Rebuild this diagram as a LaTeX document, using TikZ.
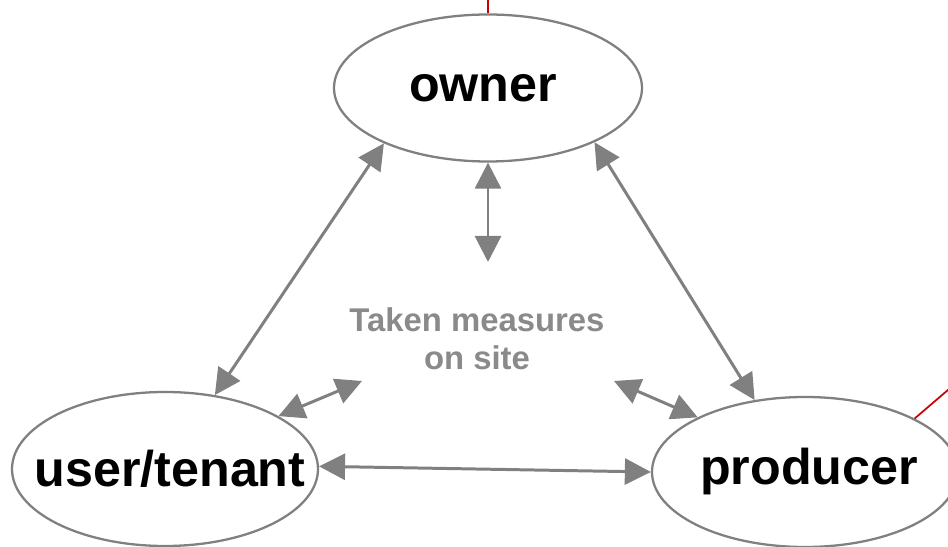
\documentclass[tikz,border=0pt]{standalone}
\usepackage{fontspec}
\setmainfont{Liberation Sans}
\usetikzlibrary{shapes.geometric,arrows.meta}
\definecolor{linegray}{HTML}{808080}
\definecolor{textgray}{HTML}{8A8A8A}
\definecolor{strayred}{HTML}{CC0000}
\begin{document}
\begin{tikzpicture}[
		party/.style 2 args={ellipse, draw=linegray, line width=1.3pt, inner sep=0pt, label={[font=\fontsize{28.6}{34}\selectfont\bfseries, xshift=#2]center:#1}},
		link/.style={linegray, line width=1.7pt, {Triangle[length=0.52cm,width=0.52cm]}-{Triangle[length=0.52cm,width=0.52cm]}}
	]
	\useasboundingbox (0,0) rectangle (18.96,10.94);
	\clip (0,0) rectangle (18.96,10.94);
	
	\node[party={owner}{-0.1cm}, minimum width=6.16cm, minimum height=2.94cm] (owner) at (9.76,9.18) {};
	\node[party={user/tenant}{0.1cm}, minimum width=6.12cm, minimum height=3.08cm] (user) at (3.30,1.56) {};
	\node[party={producer}{0.08cm}, minimum width=6.12cm, minimum height=3.00cm] (producer) at (16.10,1.50) {};
	
	\node[textgray, align=center, font=\fontsize{18.7}{21.6}\selectfont\bfseries] (site) at (9.54,4.16) {Taken measures\\on site};
	\coordinate (siteN) at (9.76,5.70);
	\coordinate (siteW) at (7.24,3.32);
	\coordinate (siteE) at (12.28,3.32);
	
	\draw[link] (owner.208) -- (user.56);
	\draw[link] (owner.333) -- (producer.125);
	\draw[link] (owner.south) -- (siteN);
	\draw[link] (user.25) -- (siteW);
	\draw[link] (siteE) -- (producer.153);
	\draw[link] (user.1) -- (producer.west);
	
	% stray red marks at the edges
	\draw[strayred, line width=1pt] (owner.north) -- ++(0,0.3);
	\draw[strayred, line width=1pt] (producer.26) -- ++(0.7,0.6);
	\draw[strayred, line width=1pt] (user.south) -- ++(0.05,-0.1);
\end{tikzpicture}
\end{document}
